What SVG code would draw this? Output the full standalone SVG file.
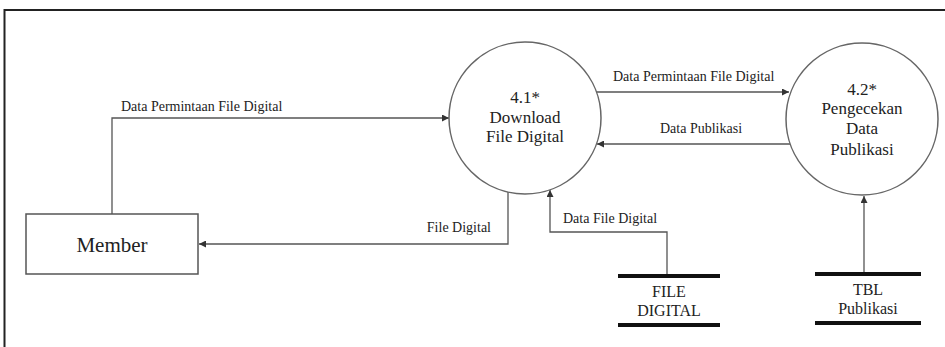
<svg xmlns="http://www.w3.org/2000/svg" width="945" height="347" viewBox="0 0 945 347" font-family="'Liberation Serif', 'DejaVu Serif', serif">
<defs>
<marker id="arr" viewBox="0 0 10 10" refX="10" refY="5" markerWidth="7" markerHeight="7" markerUnits="userSpaceOnUse" orient="auto">
<path d="M0,0 L10,5 L0,10 z" fill="#333"/>
</marker>
</defs>
<style>
text{font-family:'Liberation Serif', 'DejaVu Serif', serif;fill:#222}
.lbl{font-size:14px}
.proc{font-size:17px;text-anchor:middle}
.store{font-size:16px;text-anchor:middle}
.flow{fill:none;stroke:#555;stroke-width:1.3;marker-end:url(#arr)}
.circ{fill:#fff;stroke:#666;stroke-width:1.5}
.bar{stroke:#111;stroke-width:4}
</style>
<rect width="945" height="347" fill="#fff"/>
<path d="M4.5,347 L4.5,10 L945,10" fill="none" stroke="#222" stroke-width="2"/>
<g id="connectors">
<path class="flow" d="M112,214 L112,118 L449,118"/>
<path class="flow" d="M508,189 L508,244 L199,244"/>
<path class="flow" d="M667,275 L667,232 L550,232 L550,190"/>
<path class="flow" d="M596,92 L789,92"/>
<path class="flow" d="M790,144 L597,144"/>
<path class="flow" d="M864,274 L864,196"/>
<text class="lbl" x="121" y="111">Data Permintaan File Digital</text>
<text class="lbl" x="491" y="232" text-anchor="end">File Digital</text>
<text class="lbl" x="563" y="223">Data File Digital</text>
<text class="lbl" x="613" y="81">Data Permintaan File Digital</text>
<text class="lbl" x="660" y="133">Data Publikasi</text>
</g>
<g id="member">
<rect x="26" y="214" width="172" height="60" fill="#fff" stroke="#555" stroke-width="1.5"/>
<text x="112" y="252" font-size="21" text-anchor="middle">Member</text>
</g>
<g id="p41">
<circle class="circ" cx="525" cy="118" r="76"/>
<text class="proc" x="525" y="103">4.1*</text>
<text class="proc" x="525" y="123">Download</text>
<text class="proc" x="525" y="142">File Digital</text>
</g>
<g id="p42">
<circle class="circ" cx="862" cy="119" r="76"/>
<text class="proc" x="862" y="95">4.2*</text>
<text class="proc" x="862" y="114">Pengecekan</text>
<text class="proc" x="862" y="134">Data</text>
<text class="proc" x="862" y="155">Publikasi</text>
</g>
<g id="store-file">
<line class="bar" x1="618" y1="276" x2="720" y2="276"/>
<line class="bar" x1="618" y1="325" x2="720" y2="325"/>
<text class="store" x="669" y="297">FILE</text>
<text class="store" x="669" y="316">DIGITAL</text>
</g>
<g id="store-tbl">
<line class="bar" x1="815" y1="274" x2="921" y2="274"/>
<line class="bar" x1="815" y1="323" x2="921" y2="323"/>
<text class="store" x="868" y="295">TBL</text>
<text class="store" x="868" y="314">Publikasi</text>
</g>
</svg>
